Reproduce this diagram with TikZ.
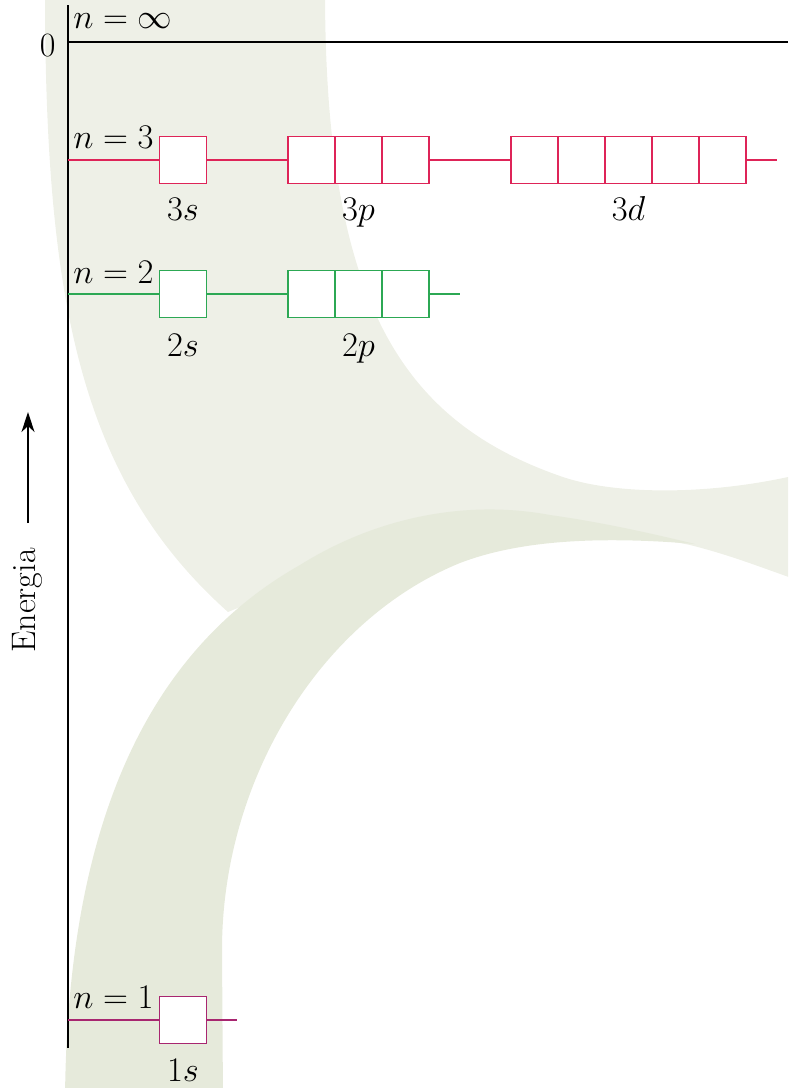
\documentclass[tikz,border=0pt]{standalone}
\usetikzlibrary{arrows.meta}
\definecolor{bandA}{RGB}{238,240,231}
\definecolor{bandB}{RGB}{230,234,219}
\definecolor{lvlred}{RGB}{222,36,88}
\definecolor{lvlgreen}{RGB}{44,168,84}
\definecolor{lvlpurple}{RGB}{168,38,112}
\begin{document}
\begin{tikzpicture}[x=0.5pt,y=-0.5pt,
  font=\fontsize{17}{20}\selectfont,
  cell/.style={draw, fill=white, line width=0.95pt, minimum width=23.5pt, minimum height=23.5pt, inner sep=0pt, outer sep=0pt},
  lvl/.style={line width=0.8pt},
  lbl/.style={anchor=base, inner sep=0pt},
  nlbl/.style={anchor=base west, inner sep=0pt},
  axisline/.style={line width=0.9pt, black}]
\useasboundingbox (0,0) rectangle (788,1088);
% background bands
\begin{scope}
\clip (0,0) rectangle (788,1088);
\fill[bandA] (45,-10) .. controls (45,300) and (80,480) .. (228,612)
  .. controls (400,540) and (600,525) .. (690,545)
  .. controls (730,555) and (760,567) .. (800,581)
  -- (800,475) -- (788,477)
  .. controls (700,496) and (610,494) .. (560,476)
  .. controls (400,420) and (325,300) .. (325,-10)
  -- cycle;
\fill[bandB] (65,1100) .. controls (67,820) and (150,650) .. (300,565)
  .. controls (380,515) and (470,500) .. (550,515)
  .. controls (600,522) and (650,533) .. (695,544)
  .. controls (600,536) and (520,540) .. (460,563)
  .. controls (320,620) and (222,780) .. (222,950)
  -- (223,1100) -- cycle;
\end{scope}
% axes
\coordinate (axT) at (68,5);
\coordinate (axB) at (68,1048);
\draw[axisline] (axT) -- (axB);
\coordinate (z0) at (68,42);
\coordinate (z1) at (788,42);
\draw[axisline] (z0) -- (z1);
\node[anchor=base east, inner sep=0pt] (zero) at (56,56) {0};
\node[nlbl] (ninf) at (73,28) {$n = \infty$};
% energy label
\node[rotate=90, anchor=base west, inner sep=0pt] (en) at (35,653) {Energia};
\coordinate (enTail) at (28,523);
\coordinate (enTip) at (28,412);
\draw[line width=0.8pt, -{Stealth[length=10pt,width=6.5pt,inset=3pt]}] (enTail) -- (enTip);
% n = 3
\coordinate (L3) at (68,160);
\coordinate (E3) at (777,160);
\node[cell, draw=lvlred] (s3) at (183,160) {};
\node[cell, draw=lvlred] (p3a) at (311.5,160) {};
\node[cell, draw=lvlred] (p3b) at (358.5,160) {};
\node[cell, draw=lvlred] (p3c) at (405.5,160) {};
\node[cell, draw=lvlred] (d3a) at (534.5,160) {};
\node[cell, draw=lvlred] (d3b) at (581.5,160) {};
\node[cell, draw=lvlred] (d3c) at (628.5,160) {};
\node[cell, draw=lvlred] (d3d) at (675.5,160) {};
\node[cell, draw=lvlred] (d3e) at (722.5,160) {};
\draw[lvl, lvlred] (L3) -- (s3.west);
\draw[lvl, lvlred] (s3.east) -- (p3a.west);
\draw[lvl, lvlred] (p3c.east) -- (d3a.west);
\draw[lvl, lvlred] (d3e.east) -- (E3);
\node[nlbl] (n3) at (73,148) {$n = 3$};
\node[lbl] (l3s) at (183,220) {$3s$};
\node[lbl] (l3p) at (358.5,220) {$3p$};
\node[lbl] (l3d) at (628.5,220) {$3d$};
% n = 2
\coordinate (L2) at (68,294);
\coordinate (E2) at (460,294);
\node[cell, draw=lvlgreen] (s2) at (183,294) {};
\node[cell, draw=lvlgreen] (p2a) at (311.5,294) {};
\node[cell, draw=lvlgreen] (p2b) at (358.5,294) {};
\node[cell, draw=lvlgreen] (p2c) at (405.5,294) {};
\draw[lvl, lvlgreen] (L2) -- (s2.west);
\draw[lvl, lvlgreen] (s2.east) -- (p2a.west);
\draw[lvl, lvlgreen] (p2c.east) -- (E2);
\node[nlbl] (n2) at (73,283) {$n = 2$};
\node[lbl] (l2s) at (183,356) {$2s$};
\node[lbl] (l2p) at (358.5,356) {$2p$};
% n = 1
\coordinate (L1) at (68,1020);
\coordinate (E1) at (237,1020);
\node[cell, draw=lvlpurple] (s1) at (183,1020) {};
\draw[lvl, lvlpurple] (L1) -- (s1.west);
\draw[lvl, lvlpurple] (s1.east) -- (E1);
\node[nlbl] (n1) at (73,1008) {$n = 1$};
\node[lbl] (l1s) at (183,1081) {$1s$};
\end{tikzpicture}
\end{document}
